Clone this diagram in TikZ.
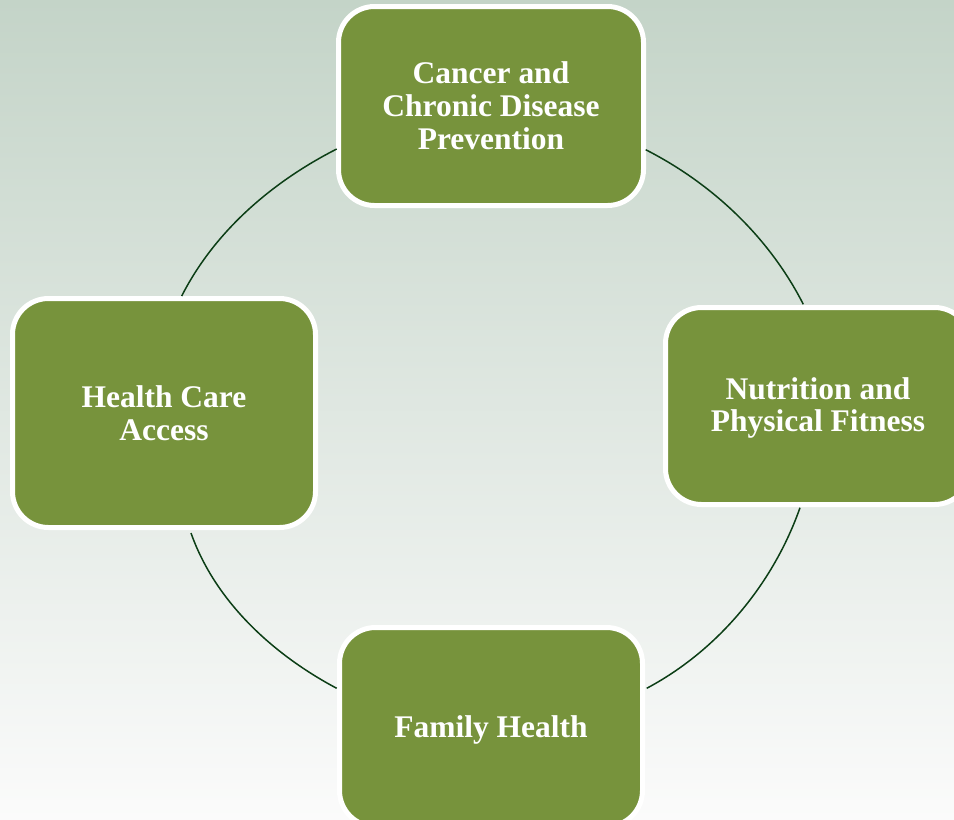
\documentclass[tikz,border=0pt]{standalone}
\usepackage{fontspec}
\setmainfont{Liberation Serif}
\definecolor{bgtop}{RGB}{196,212,200}
\definecolor{bgmid}{RGB}{236,240,236}
\definecolor{bgbot}{RGB}{251,251,251}
\definecolor{boxgreen}{RGB}{119,147,60}
\definecolor{arcgreen}{RGB}{12,62,22}
\tikzset{
  box/.style={draw=white, line width=5pt, fill=boxgreen, rounded corners=36pt,
    inner sep=0pt, align=center, text=white,
    font=\fontsize{31.5}{33}\selectfont\bfseries},
  ring/.style={draw=arcgreen, line width=1.5pt, looseness=0.87}
}
\begin{document}
\begin{tikzpicture}[x=1pt,y=1pt]
\useasboundingbox (0,0) rectangle (954,-820);
\clip (0,0) rectangle (954,-820);
\shade[top color=bgtop, middle color=bgmid, bottom color=bgbot] (0,0) rectangle (954,-820);

\node[box, minimum width=305pt, minimum height=199pt] (top) at (491,-106) {Cancer and\\Chronic Disease\\Prevention};
\node[box, minimum width=303pt, minimum height=229pt] (left) at (164,-413) {Health Care\\Access};
\node[box, minimum width=305pt, minimum height=197pt] (right) at (818,-406) {\raisebox{-3pt}[\height][\depth]{\begin{tabular}{@{}c@{}}Nutrition and\\[-0.6pt]Physical Fitness\end{tabular}}};
\node[box, minimum width=303pt, minimum height=199pt] (bottom) at (491,-727) {\raisebox{-3pt}[\height][\depth]{Family Health}};

\coordinate (tlA) at (181.7,-296);
\coordinate (tlB) at (336.7,-149);
\coordinate (trA) at (645.7,-149.7);
\coordinate (trB) at (803.3,-304.3);
\coordinate (brA) at (800,-507.7);
\coordinate (brB) at (646.7,-688.3);
\coordinate (blA) at (336.7,-688.3);
\coordinate (blB) at (191,-533);

\draw[ring] (tlA) to[out=63,in=207] (tlB);
\draw[ring] (trA) to[out=-27,in=117] (trB);
\draw[ring] (brA) to[out=250.6,in=28] (brB);
\draw[ring] (blA) to[out=152,in=289.4] (blB);
\end{tikzpicture}
\end{document}
